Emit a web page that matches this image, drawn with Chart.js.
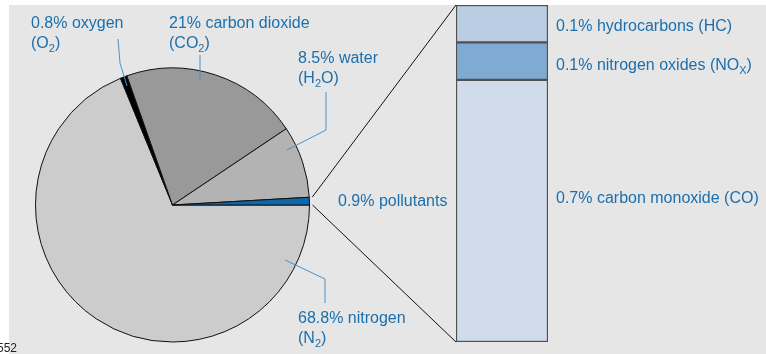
<!DOCTYPE html>
<html>
<head>
<meta charset="utf-8">
<script src="https://cdn.jsdelivr.net/npm/chart.js@4/dist/chart.umd.min.js"></script>
<style>
  html, body { margin: 0; padding: 0; background: #ffffff; }
  #wrap { position: relative; width: 766px; height: 354px; overflow: hidden; }
  #wrap canvas { position: absolute; left: 0; top: 0; }
</style>
</head>
<body>
<div id="wrap">
  <canvas id="pie" width="766" height="354"></canvas>
  <canvas id="bar" width="766" height="354"></canvas>
</div>
<script>
// Composition of exhaust gas, in percent (pie runs clockwise from 3 o'clock)
const gasNames    = ['nitrogen', 'oxygen', 'carbon dioxide', 'water', 'pollutants'];
const gasFormulas = ['N_2', 'O_2', 'CO_2', 'H_2O', null];
const gasShares   = [68.8, 0.8, 21, 8.5, 0.9];

// Breakdown of the pollutant share (stacked bottom to top)
const pollutantNames    = ['carbon monoxide', 'nitrogen oxides', 'hydrocarbons'];
const pollutantFormulas = ['CO', 'NO_X', 'HC'];
const pollutantShares   = [0.7, 0.1, 0.1];

const FONT = '"Liberation Sans", Arial, Helvetica, sans-serif';
const TEXT_BLUE = '#1b6fad';
const LEADER_BLUE = '#4a92c9';

const gasColors = ['#cccccc', '#000000', '#999999', '#b3b3b3', '#0e68a8'];
const pollutantColors = ['#d0dcec', '#7faad1', '#b9cde3'];

// Label placement for each pie slice: text origin and leader polyline
const gasLabelLayout = [
  { x: 298, y: 323, leader: [[285, 260], [325, 279], [325, 303]] },
  { x: 31,  y: 28,  leader: [[118, 39], [120, 63], [127, 86]] },
  { x: 169, y: 28,  leader: [[200, 55], [200, 81]] },
  { x: 298, y: 63,  leader: [[326, 92], [326, 130], [287, 150]] },
  { x: 338, y: 206, leader: null }
];
const pollutantLabelBaselines = [203, 70, 31];

// Draws text where "_c" renders the character c as a subscript
function drawRich(ctx, str, x, y) {
  const runs = [];
  for (let i = 0; i < str.length; i++) {
    if (str[i] === '_' && i + 1 < str.length) {
      runs.push({ t: str[i + 1], sub: true });
      i++;
    } else {
      const last = runs[runs.length - 1];
      if (last && !last.sub) last.t += str[i];
      else runs.push({ t: str[i], sub: false });
    }
  }
  let cx = x;
  ctx.textBaseline = 'alphabetic';
  ctx.textAlign = 'left';
  for (const r of runs) {
    ctx.font = (r.sub ? '11px ' : '16px ') + FONT;
    ctx.fillText(r.t, cx, r.sub ? y + 4 : y);
    cx += ctx.measureText(r.t).width;
  }
}

function strokePath(ctx, pts, color, width) {
  ctx.save();
  ctx.strokeStyle = color;
  ctx.lineWidth = width;
  ctx.beginPath();
  pts.forEach((p, i) => i ? ctx.lineTo(p[0], p[1]) : ctx.moveTo(p[0], p[1]));
  ctx.stroke();
  ctx.restore();
}

const backgroundPlugin = {
  id: 'panelBackground',
  beforeDraw(chart) {
    const ctx = chart.ctx;
    ctx.save();
    ctx.fillStyle = '#ffffff';
    ctx.fillRect(0, 0, chart.width, chart.height);
    ctx.fillStyle = '#e6e6e6';
    ctx.fillRect(9, 5, chart.width - 9, chart.height - 5);
    ctx.restore();
  },
  afterDraw(chart) {
    const ctx = chart.ctx;
    ctx.save();
    ctx.fillStyle = '#222222';
    ctx.font = '12px ' + FONT;
    ctx.textBaseline = 'alphabetic';
    ctx.fillText('552', -3, 352);
    ctx.restore();
  }
};

const gasLabelPlugin = {
  id: 'gasLabels',
  afterDatasetsDraw(chart) {
    const ctx = chart.ctx;
    ctx.save();
    gasNames.forEach((name, i) => {
      const lay = gasLabelLayout[i];
      if (lay.leader) strokePath(ctx, lay.leader, LEADER_BLUE, 1);
      ctx.fillStyle = TEXT_BLUE;
      drawRich(ctx, gasShares[i] + '% ' + name, lay.x, lay.y);
      if (gasFormulas[i]) drawRich(ctx, '(' + gasFormulas[i] + ')', lay.x, lay.y + 20);
    });
    ctx.restore();
  }
};

const pieChart = new Chart(document.getElementById('pie'), {
  type: 'pie',
  data: {
    labels: gasNames,
    datasets: [{
      data: gasShares,
      backgroundColor: gasColors,
      borderColor: '#111111',
      borderWidth: 1
    }]
  },
  options: {
    responsive: false,
    animation: false,
    events: [],
    rotation: 90,
    layout: { padding: { left: 35, right: 456, top: 67, bottom: 11 } },
    plugins: { legend: { display: false }, tooltip: { enabled: false } }
  },
  plugins: [backgroundPlugin, gasLabelPlugin]
});

// Lines that tie the pollutant slice to the stacked breakdown bar
const zoomLinesPlugin = {
  id: 'zoomLines',
  beforeDatasetsDraw(chart) {
    const arc = pieChart.getDatasetMeta(0).data[gasNames.indexOf('pollutants')];
    const a = arc.getProps(['x', 'y', 'outerRadius', 'startAngle', 'endAngle'], true);
    const gap = 3;
    const rr = a.outerRadius + gap;
    const pTop = [a.x + rr * Math.cos(a.startAngle), a.y + rr * Math.sin(a.startAngle)];
    const pBot = [a.x + rr * Math.cos(a.endAngle), a.y + rr * Math.sin(a.endAngle)];
    const topEl = chart.getDatasetMeta(pollutantShares.length - 1).data[0];
    const botEl = chart.getDatasetMeta(0).data[0];
    const t = topEl.getProps(['x', 'y', 'width'], true);
    const b = botEl.getProps(['x', 'base', 'width'], true);
    strokePath(chart.ctx, [pTop, [t.x - t.width / 2, t.y]], '#111111', 1);
    strokePath(chart.ctx, [pBot, [b.x - b.width / 2, b.base]], '#111111', 1);
  }
};

const pollutantLabelPlugin = {
  id: 'pollutantLabels',
  afterDatasetsDraw(chart) {
    const ctx = chart.ctx;
    const el = chart.getDatasetMeta(0).data[0].getProps(['x', 'width'], true);
    const lx = el.x + el.width / 2 + 8;
    ctx.save();
    ctx.fillStyle = TEXT_BLUE;
    pollutantNames.forEach((name, i) => {
      drawRich(ctx, pollutantShares[i] + '% ' + name + ' (' + pollutantFormulas[i] + ')', lx, pollutantLabelBaselines[i]);
    });
    ctx.restore();
  }
};

const pollutantTotal = pollutantShares.reduce((s, v) => s + v, 0);

new Chart(document.getElementById('bar'), {
  type: 'bar',
  data: {
    labels: ['pollutants'],
    datasets: pollutantNames.map((name, i) => ({
      label: name,
      data: [pollutantShares[i]],
      backgroundColor: pollutantColors[i],
      borderColor: '#505050',
      borderWidth: 1.5,
      borderSkipped: false,
      barPercentage: 1,
      categoryPercentage: 1
    }))
  },
  options: {
    responsive: false,
    animation: false,
    events: [],
    layout: { padding: { left: 456, right: 218, top: 5, bottom: 12 } },
    scales: {
      x: { display: false, stacked: true },
      y: { display: false, stacked: true, min: 0, max: pollutantTotal }
    },
    plugins: { legend: { display: false }, tooltip: { enabled: false } }
  },
  plugins: [zoomLinesPlugin, pollutantLabelPlugin]
});
</script>
</body>
</html>
